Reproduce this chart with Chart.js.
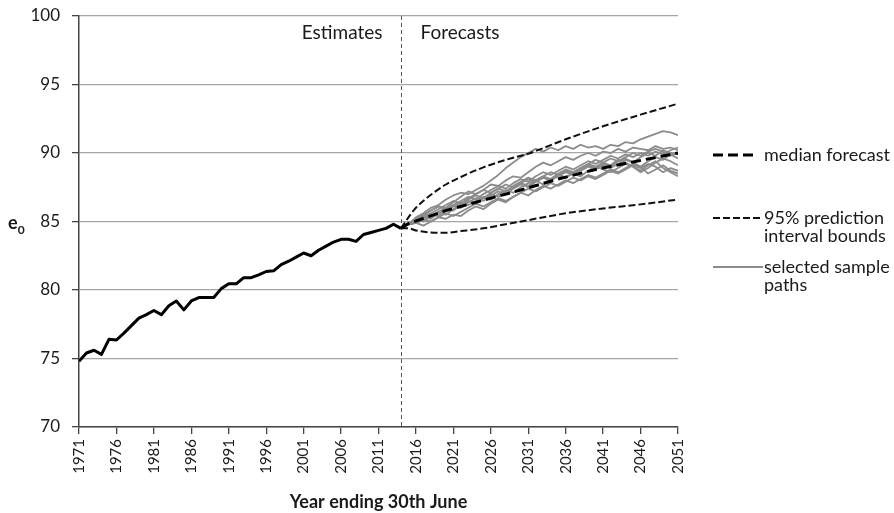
<!DOCTYPE html>
<html>
<head>
<meta charset="utf-8">
<script src="https://cdn.jsdelivr.net/npm/chart.js@4.4.1/dist/chart.umd.min.js"></script>
<style>
  html, body { margin: 0; padding: 0; background: #fff; }
  #wrap { position: relative; width: 894px; height: 513px; font-family: Lato, "Open Sans", sans-serif; color: #1a1a1a; }
  #chart { position: absolute; left: 0; top: 0; }
  #ylab { position: absolute; left: 8px; top: 211px; font-weight: bold; font-size: 18px; }
  #ylab sub { font-size: 12px; }
  .lg { position: absolute; left: 764px; font-size: 18px; line-height: 18px; white-space: nowrap; }
  .sw { position: absolute; left: 712px; }
</style>
</head>
<body>
<div id="wrap">
  <canvas id="chart" width="894" height="513"></canvas>
  <div id="ylab">e<sub>0</sub></div>

  <svg class="sw" style="top:151px" width="50" height="8"><line x1="1" y1="4" x2="45" y2="4" stroke="#000" stroke-width="3" stroke-dasharray="10 5"/></svg>
  <div class="lg" style="top:145px">median forecast</div>

  <svg class="sw" style="top:214px" width="54" height="8"><line x1="1" y1="4" x2="51" y2="4" stroke="#111" stroke-width="2" stroke-dasharray="7 3"/></svg>
  <div class="lg" style="top:208px">95% prediction<br>interval bounds</div>

  <svg class="sw" style="top:263px" width="54" height="8"><line x1="1" y1="4" x2="51" y2="4" stroke="#8c8c8c" stroke-width="2"/></svg>
  <div class="lg" style="top:257px">selected sample<br>paths</div>
</div>

<script>
/* ── Données ── */
const xTicks = [1971, 1976, 1981, 1986, 1991, 1996, 2001, 2006, 2011, 2016, 2021, 2026, 2031, 2036, 2041, 2046, 2051];
const yTicks = [70, 75, 80, 85, 90, 95, 100];
const splitYear = 2014;

// estimates, one value per year from 1971
const histStart = 1971;
const histValues = [
  74.8, 75.4, 75.6, 75.3, 76.4, 76.35, 76.85, 77.4, 77.95, 78.2,
  78.5, 78.2, 78.85, 79.2, 78.55, 79.2, 79.45, 79.45, 79.45, 80.1,
  80.45, 80.45, 80.9, 80.9, 81.1, 81.35, 81.4, 81.85, 82.1, 82.4,
  82.7, 82.5, 82.9, 83.2, 83.5, 83.7, 83.7, 83.55, 84.05, 84.2,
  84.35, 84.5, 84.8, 84.5
];

const medianYears = [2014, 2015, 2020, 2025, 2030, 2035, 2040, 2045, 2051];
const medianValues = [84.5, 84.85, 85.8, 86.55, 87.3, 88.1, 88.8, 89.35, 90.0];

const upperYears = [2014, 2015, 2016, 2018, 2020, 2022, 2025, 2028, 2031, 2036, 2041, 2046, 2051];
const upperValues = [84.5, 85.3, 86.0, 86.95, 87.7, 88.25, 88.95, 89.5, 89.95, 91.0, 91.95, 92.8, 93.6];

const lowerYears = [2014, 2015, 2016, 2018, 2020, 2022, 2025, 2028, 2031, 2036, 2041, 2046, 2051];
const lowerValues = [84.5, 84.5, 84.35, 84.2, 84.18, 84.3, 84.5, 84.8, 85.1, 85.6, 85.95, 86.25, 86.6];

// sample paths, one value per year from 2014
const pathStart = 2014;
const pathA = [84.5, 84.8, 85.3, 85.6, 86.0, 86.2, 86.6, 86.9, 87.1, 87.0, 87.3, 87.6, 88.0, 88.4, 88.9, 89.3, 89.7, 90.0, 90.3, 90.1, 90.4, 90.2, 90.5, 90.3, 90.6, 90.4, 90.5, 90.3, 90.6, 90.5, 90.8, 90.7, 91.0, 91.2, 91.4, 91.6, 91.5, 91.3];
const pathB = [84.5, 84.8, 85.0, 85.4, 85.8, 86.1, 86.0, 86.4, 86.8, 87.2, 87.0, 87.3, 87.7, 87.6, 88.0, 88.3, 88.2, 88.6, 89.0, 89.3, 89.1, 89.4, 89.7, 89.5, 89.8, 90.0, 89.8, 90.1, 90.0, 90.3, 90.1, 90.4, 90.3, 90.2, 90.5, 90.3, 90.4, 90.2];
const pathC = [84.5, 84.8, 85.1, 85.3, 85.2, 85.6, 85.9, 86.2, 86.0, 86.4, 86.7, 86.5, 86.9, 87.2, 87.0, 87.4, 87.7, 87.5, 87.9, 88.2, 88.0, 88.4, 88.7, 88.5, 88.8, 89.1, 88.9, 89.2, 89.0, 89.4, 89.6, 89.3, 89.7, 90.0, 89.8, 90.2, 90.0, 89.9];
const pathD = [84.5, 84.8, 84.9, 85.2, 85.5, 85.4, 85.8, 86.1, 86.4, 86.2, 86.5, 86.8, 86.6, 87.0, 87.3, 87.1, 87.5, 87.8, 88.0, 87.7, 88.1, 88.4, 88.2, 88.5, 88.3, 88.7, 89.0, 88.8, 88.6, 88.9, 89.2, 89.0, 88.7, 89.1, 89.4, 88.9, 88.6, 88.3];
const pathE = [84.5, 84.8, 85.2, 85.0, 85.4, 85.7, 85.5, 85.9, 86.3, 86.6, 86.9, 86.7, 87.1, 87.4, 87.2, 87.6, 87.9, 88.2, 88.0, 88.3, 88.6, 88.4, 88.2, 88.6, 88.9, 89.2, 89.0, 89.3, 89.1, 89.5, 89.3, 89.0, 88.6, 88.9, 89.3, 89.6, 89.4, 89.1];
const pathF = [84.5, 84.8, 84.9, 84.7, 85.0, 85.3, 85.2, 85.5, 85.4, 85.8, 86.1, 85.9, 86.3, 86.6, 86.4, 86.8, 87.1, 86.9, 87.3, 87.6, 87.4, 87.7, 88.0, 87.8, 88.1, 88.4, 88.2, 88.5, 88.8, 88.6, 88.9, 89.2, 89.0, 88.5, 88.8, 89.1, 88.7, 88.5];
const pathG = [84.5, 84.8, 85.1, 85.5, 85.3, 85.7, 86.0, 85.8, 86.2, 86.5, 86.3, 86.7, 87.0, 86.8, 87.2, 87.5, 87.8, 87.6, 88.0, 88.3, 88.1, 88.5, 88.8, 88.6, 88.9, 89.2, 89.5, 89.3, 89.6, 89.4, 89.7, 90.0, 89.8, 90.1, 90.3, 90.1, 89.8, 90.0];
const pathH = [84.5, 84.8, 85.0, 85.3, 85.6, 85.9, 86.2, 86.5, 86.3, 86.7, 87.0, 87.3, 87.1, 87.4, 87.7, 87.5, 87.8, 88.1, 87.9, 88.2, 88.0, 88.3, 88.6, 88.4, 88.7, 89.0, 88.8, 89.1, 88.9, 89.2, 89.5, 89.3, 89.0, 89.4, 89.7, 89.5, 89.9, 89.6];
const pathI = [84.5, 84.8, 84.9, 85.1, 85.0, 85.3, 85.6, 85.4, 85.7, 86.0, 86.3, 86.1, 86.4, 86.7, 86.5, 86.8, 87.1, 87.4, 87.2, 87.5, 87.8, 87.6, 87.9, 88.2, 88.0, 88.3, 88.1, 88.4, 88.7, 88.5, 88.8, 89.1, 88.9, 89.2, 89.0, 88.6, 88.9, 88.7];
const pathJ = [84.5, 84.8, 85.2, 85.5, 85.8, 86.1, 85.9, 86.2, 86.5, 86.8, 86.6, 87.0, 87.3, 87.6, 87.4, 87.8, 88.1, 87.9, 88.3, 88.6, 88.4, 88.7, 89.0, 88.8, 89.1, 89.4, 89.2, 89.5, 89.8, 89.6, 89.9, 89.7, 90.0, 89.8, 90.1, 89.9, 90.2, 90.4];
const samplePaths = [pathA, pathB, pathC, pathD, pathE, pathF, pathG, pathH, pathI, pathJ];

/* ── Helpers ── */
const byYear = (start, vals) => vals.map((v, i) => ({ x: start + i, y: v }));
const zip = (xs, ys) => xs.map((x, i) => ({ x, y: ys[i] }));

const TEXT = '#1a1a1a';
const AXIS = '#444';

/* ── Ligne de séparation + libellés Estimates / Forecasts ── */
const divider = {
  id: 'divider',
  beforeDatasetsDraw(chart) {
    const { ctx, chartArea, scales } = chart;
    const x = Math.round(scales.x.getPixelForValue(splitYear)) + 0.5;
    ctx.save();
    ctx.strokeStyle = '#555';
    ctx.lineWidth = 1;
    ctx.setLineDash([4, 3]);
    ctx.beginPath();
    ctx.moveTo(x, chartArea.top);
    ctx.lineTo(x, chartArea.bottom);
    ctx.stroke();
    ctx.setLineDash([]);
    ctx.font = '19px Lato, "Open Sans", sans-serif';
    ctx.fillStyle = TEXT;
    ctx.textBaseline = 'middle';
    ctx.textAlign = 'right';
    ctx.fillText('Estimates', x - 19, chartArea.top + 17);
    ctx.textAlign = 'left';
    ctx.fillText('Forecasts', x + 19, chartArea.top + 17);
    ctx.restore();
  }
};

const line = (data, extra) => Object.assign({
  data, pointRadius: 0, fill: false, borderJoinStyle: 'round'
}, extra);

const datasets = [
  line(byYear(histStart, histValues), { label: 'estimates', borderColor: '#000', borderWidth: 3 }),
  line(zip(medianYears, medianValues), { label: 'median forecast', borderColor: '#000', borderWidth: 3, borderDash: [10, 5] }),
  line(zip(upperYears, upperValues), { label: 'upper', borderColor: '#111', borderWidth: 2, borderDash: [7, 3], cubicInterpolationMode: 'monotone' }),
  line(zip(lowerYears, lowerValues), { label: 'lower', borderColor: '#111', borderWidth: 2, borderDash: [7, 3], cubicInterpolationMode: 'monotone' }),
  ...samplePaths.map((p, i) => line(byYear(pathStart, p), { label: 'path ' + i, borderColor: '#8c8c8c', borderWidth: 1.8 }))
];

new Chart(document.getElementById('chart'), {
  type: 'line',
  data: { datasets },
  options: {
    responsive: false,
    animation: false,
    layout: { padding: { left: 0, right: 216, top: 16, bottom: 0 } },
    plugins: { legend: { display: false }, tooltip: { enabled: false } },
    scales: {
      x: {
        type: 'linear',
        min: 1971,
        max: 2051,
        afterBuildTicks: s => { s.ticks = xTicks.map(v => ({ value: v })); },
        afterFit: s => { s.height = 86; },
        ticks: {
          autoSkip: false, minRotation: 90, maxRotation: 90, padding: 5,
          color: TEXT, font: { family: 'Lato', size: 15 },
          callback: v => String(v)
        },
        grid: { drawOnChartArea: false, drawTicks: true, tickLength: 7, color: AXIS, lineWidth: 1.3 },
        border: { color: AXIS, width: 1.5 },
        title: {
          display: true, text: 'Year ending 30th June', color: TEXT,
          font: { family: 'Lato', size: 18, weight: 'bold' }, padding: { top: 2, bottom: 0 }
        }
      },
      y: {
        min: 70,
        max: 100,
        afterBuildTicks: s => { s.ticks = yTicks.map(v => ({ value: v })); },
        afterFit: s => { s.width = 79; s.paddingTop = 0; s.paddingBottom = 0; },
        ticks: { padding: 12, color: TEXT, font: { family: 'Lato', size: 17 } },
        grid: { color: '#a6a6a6', lineWidth: 1.3, tickLength: 7, tickColor: AXIS },
        border: { color: AXIS, width: 1.5 }
      }
    }
  },
  plugins: [divider]
});
</script>
</body>
</html>
